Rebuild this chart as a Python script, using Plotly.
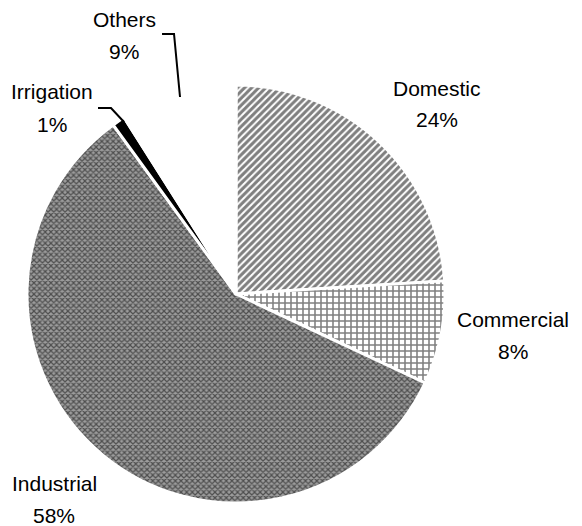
import plotly.graph_objects as go

W, H = 582, 526

# slice data, clockwise from 12 o'clock
labels = ["Domestic", "Commercial", "Industrial", "Irrigation", "Others"]
shares = [24, 8, 58, 1, 9]

# label anchor points in pixels (centre of the two text lines)
label_px = {
    "Domestic": (437, 104),
    "Commercial": (513, 335),
    "Industrial": (54, 499),
    "Irrigation": (52, 108),
    "Others": (124, 36),
}

# leader lines (pixels) for the thin slices
leaders = [
    [(162, 34), (174, 34), (180, 97)],
    [(98, 108), (111, 108), (124, 122)],
]


def px(x, y):
    return x / W, 1 - y / H


cx, cy, r = 236, 294, 209
x0, y1 = px(cx - r, cy - r)
x1, y0 = px(cx + r, cy + r)

fig = go.Figure(
    go.Pie(
        labels=labels,
        values=shares,
        sort=False,
        direction="clockwise",
        rotation=0,
        textinfo="none",
        hoverinfo="label+percent",
        showlegend=False,
        domain=dict(x=[x0, x1], y=[y0, y1]),
        marker=dict(
            colors=["white", "white", "#9c9c9c", "black", "white"],
            line=dict(color="white", width=3),
            pattern=dict(
                shape=["/", "+", "x", "", ""],
                fgcolor=["black", "black", "black", "black", "black"],
                bgcolor=["white", "white", "#9c9c9c", "black", "white"],
                size=[5, 6, 4, 5, 5],
                solidity=[0.6, 0.45, 0.5, 0.3, 0.3],
                fillmode="overlay",
            ),
        ),
    )
)

font = dict(family="Liberation Sans, Arial, sans-serif", size=21, color="black")
for name, v in zip(labels, shares):
    lx, ly = label_px[name]
    for text, dy in [(name, -16), (f"{v}%", 16)]:
        ax, ay = px(lx, ly + dy)
        fig.add_annotation(x=ax, y=ay, xref="paper", yref="paper", text=text,
                           showarrow=False, font=font, xanchor="center", yanchor="middle")

for pts in leaders:
    p = [px(x, y) for x, y in pts]
    path = "M " + " L ".join(f"{a:.4f},{b:.4f}" for a, b in p)
    fig.add_shape(type="path", path=path, xref="paper", yref="paper",
                  line=dict(color="black", width=2))

fig.update_layout(
    width=W,
    height=H,
    margin=dict(l=0, r=0, t=0, b=0),
    paper_bgcolor="white",
    plot_bgcolor="white",
)

fig.write_html("out.html", config={"displayModeBar": False},
               post_script="document.body.style.margin='0';")
